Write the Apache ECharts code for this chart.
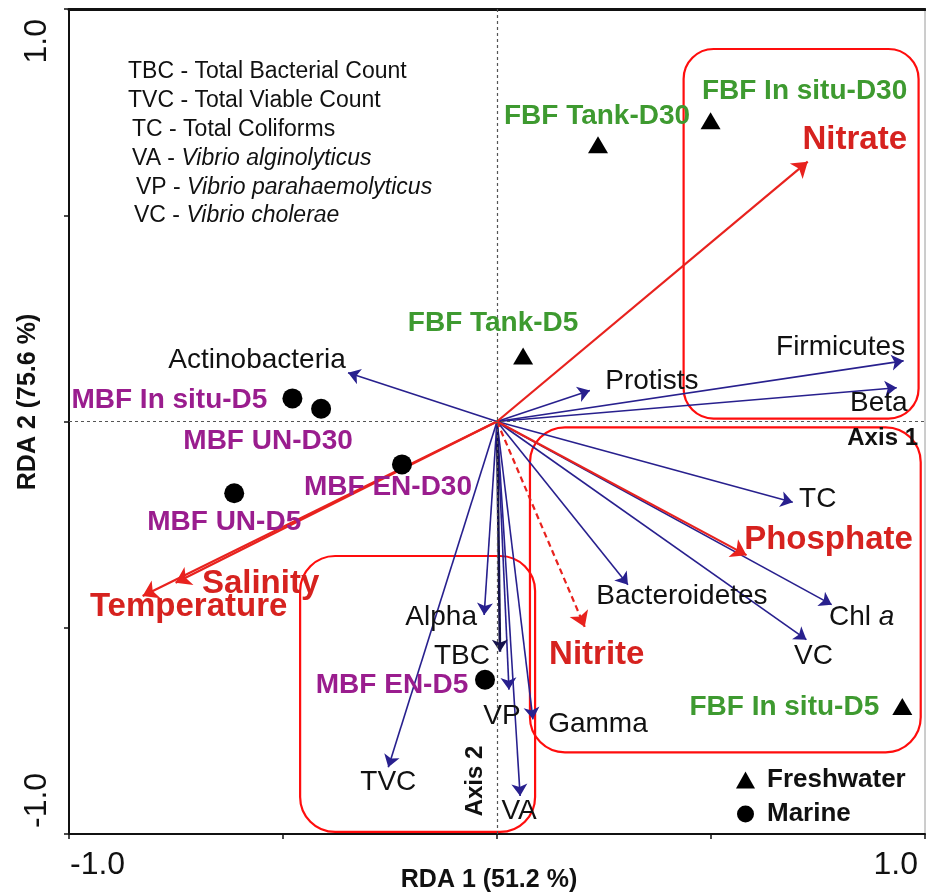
<!DOCTYPE html>
<html><head><meta charset="utf-8">
<script src="https://cdn.jsdelivr.net/npm/echarts@6/dist/echarts.min.js"></script>
<style>html,body{margin:0;padding:0;background:#fff}#c{width:926px;height:894px}</style>
</head><body><div id="c"></div>
<script>
// ---- data ----
const speciesNames = ['Actinobacteria','Protists','Firmicutes','Beta','TC','Bacteroidetes','Chl a','VC','Gamma','VA','VP','TBC','Alpha','TVC'];
const speciesX = [-0.348, 0.217, 0.950, 0.934, 0.691, 0.306, 0.782, 0.723, 0.084, 0.054, 0.028, 0.007, -0.030, -0.254];
const speciesY = [0.118, 0.075, 0.147, 0.082, -0.196, -0.396, -0.444, -0.529, -0.722, -0.908, -0.650, -0.558, -0.469, -0.838];
const envNames = ['Nitrate','Phosphate','Nitrite','Salinity','Temperature'];
const envX = [0.726, 0.583, 0.205, -0.751, -0.828];
const envY = [0.630, -0.324, -0.498, -0.391, -0.423];
const freshNames = ['FBF In situ-D30','FBF Tank-D30','FBF Tank-D5','FBF In situ-D5'];
const freshX = [0.499, 0.236, 0.061, 0.947];
const freshY = [0.729, 0.671, 0.159, -0.691];
const marineNames = ['MBF In situ-D5','MBF UN-D30','MBF EN-D30','MBF UN-D5','MBF EN-D5'];
const marineX = [-0.478, -0.411, -0.222, -0.614, -0.028];
const marineY = [0.056, 0.031, -0.104, -0.174, -0.626];
const tickValues = [-1, 1];
const tickLabels = ['-1.0', '1.0'];
const xTitle = 'RDA 1 (51.2 %)';
const yTitle = 'RDA 2 (75.6 %)';
const noteLines = [
  ['TBC - ', 'Total Bacterial Count', false],
  ['TVC - ', 'Total Viable Count', false],
  ['TC - ', 'Total Coliforms', false],
  ['VA - ', 'Vibrio alginolyticus', true],
  ['VP - ', 'Vibrio parahaemolyticus', true],
  ['VC - ', 'Vibrio cholerae', true]
];

// ---- layout / style (not data) ----
const labelOffset = {
  'Actinobacteria': [-91, -13], 'Protists': [62, -9], 'Firmicutes': [-63, -14], 'Beta': [-18, 16],
  'TC': [25, -3], 'Bacteroidetes': [54, 11], 'Chl a': [30, 13], 'VC': [7, 17], 'Gamma': [65, 5],
  'VA': [-1, 15], 'VP': [-7, 27], 'TBC': [-38, 5], 'Alpha': [-43, 2], 'TVC': [0, 15],
  'Nitrate': [47, -22], 'Phosphate': [82, -15], 'Nitrite': [12, 28], 'Salinity': [85, 1], 'Temperature': [46, 11],
  'FBF In situ-D30': [94, -30], 'FBF Tank-D30': [-1, -28], 'FBF Tank-D5': [-30, -33], 'FBF In situ-D5': [-118, 1],
  'MBF In situ-D5': [-123, 2], 'MBF UN-D30': [-53, 33], 'MBF EN-D30': [-14, 23], 'MBF UN-D5': [-10, 29], 'MBF EN-D5': [-93, 6]
};
const boxes = [
  {x0: 0.436, x1: 0.985, y0: 0.007, y1: 0.903, r: 30},
  {x0: 0.077, x1: 0.990, y0: -0.802, y1: -0.014, r: 35},
  {x0: -0.460, x1: 0.089, y0: -0.995, y1: -0.326, r: 35}
];
const BLUE = '#28208e', RED = '#e8221e', RED_TXT = '#d6221f', GREEN = '#3e9a30', PURPLE = '#9a1d8e';
const FONT = "'Liberation Sans', Arial, sans-serif";

function off(n) { return labelOffset[n] || [0, 0]; }

const speciesLines = speciesNames.map((n, i) => {
  const o = {name: n, coords: [[0, 0], [speciesX[i], speciesY[i]]]};
  if (n === 'TBC') o.lineStyle = {color: '#15124a', width: 2.6};
  return o;
});
const envLines = envNames.map((n, i) => {
  const o = {name: n, coords: [[0, 0], [envX[i], envY[i]]]};
  if (n === 'Nitrite') o.lineStyle = {type: [6, 4]};
  return o;
});

function labelData(names, xs, ys, baseLabel) {
  return names.map((n, i) => ({
    name: n, value: [xs[i], ys[i]],
    label: Object.assign({}, baseLabel, {offset: off(n)})
  }));
}

const speciesLabelBase = {show: true, position: 'inside', color: '#111', fontSize: 28, fontFamily: FONT, opacity: 1,
  textBorderWidth: 0, align: 'center', verticalAlign: 'middle',
  formatter: p => p.name === 'Chl a' ? 'Chl {i|a}' : p.name,
  rich: {i: {fontStyle: 'italic', fontSize: 28, fontFamily: FONT, color: '#111'}}};
const envLabelBase = {show: true, position: 'inside', color: RED_TXT, fontSize: 33, fontWeight: 'bold', fontFamily: FONT, opacity: 1,
  textBorderWidth: 0, align: 'center', verticalAlign: 'middle', formatter: p => p.name};
const freshLabelBase = {show: true, position: 'inside', color: GREEN, fontSize: 28, fontWeight: 'bold', fontFamily: FONT, opacity: 1,
  textBorderWidth: 0, align: 'center', verticalAlign: 'middle', formatter: p => p.name};
const marineLabelBase = Object.assign({}, freshLabelBase, {color: PURPLE});

const option = {
  animation: false,
  backgroundColor: '#fff',
  grid: {left: 69, right: 1, top: 9, bottom: 60, show: true, borderColor: '#9a9a9a', borderWidth: 1},
  xAxis: [
    {type: 'value', min: -1, max: 1, interval: 0.5, position: 'bottom',
     axisLine: {show: true, onZero: false, lineStyle: {color: '#111', width: 2}},
     axisTick: {show: true, length: 5, lineStyle: {color: '#111', width: 1.5}},
     axisLabel: {show: false}, splitLine: {show: false}},
    {type: 'value', min: -1, max: 1, interval: 0.5, position: 'top',
     axisLine: {show: true, onZero: false, lineStyle: {color: '#111', width: 3}},
     axisTick: {show: false}, axisLabel: {show: false}, splitLine: {show: false}}
  ],
  yAxis: [
    {type: 'value', min: -1, max: 1, interval: 0.5,
     axisLine: {show: true, onZero: false, lineStyle: {color: '#111', width: 2}},
     axisTick: {show: true, length: 5, lineStyle: {color: '#111', width: 1.5}},
     axisLabel: {show: false}, splitLine: {show: false}}
  ],
  legend: {
    data: ['Freshwater', 'Marine'], orient: 'vertical', left: 731, top: 762,
    itemWidth: 19, itemHeight: 17, itemGap: 8,
    textStyle: {fontSize: 26, fontWeight: 'bold', color: '#111', fontFamily: FONT, padding: [0, 0, 0, 7]}
  },
  series: [
    {type: 'lines', name: 'species', coordinateSystem: 'cartesian2d', xAxisIndex: 0, yAxisIndex: 0, z: 3,
     symbol: ['none', 'arrow'], symbolSize: 12,
     lineStyle: {color: BLUE, width: 1.6, opacity: 1, curveness: 0},
     data: speciesLines},
    {type: 'lines', name: 'env', coordinateSystem: 'cartesian2d', z: 4,
     symbol: ['none', 'arrow'], symbolSize: 15,
     lineStyle: {color: RED, width: 2.2, opacity: 1, curveness: 0},
     data: envLines},
    {type: 'scatter', name: 'speciesLabels', symbolSize: 0, z: 5, silent: true,
     itemStyle: {opacity: 1},
     data: labelData(speciesNames, speciesX, speciesY, speciesLabelBase),
     markLine: {silent: true, symbol: 'none', label: {show: false},
       lineStyle: {type: [3, 3], color: '#555', width: 1.2},
       data: [{xAxis: 0}, {yAxis: 0}]}},
    {type: 'scatter', name: 'envLabels', symbolSize: 0, z: 5, silent: true,
     itemStyle: {opacity: 1},
     data: labelData(envNames, envX, envY, envLabelBase)},
    {type: 'scatter', name: 'Freshwater', symbol: 'triangle', symbolSize: [20, 17], z: 6,
     itemStyle: {color: '#000', opacity: 1},
     data: labelData(freshNames, freshX, freshY, freshLabelBase)},
    {type: 'scatter', name: 'Marine', symbol: 'circle', symbolSize: 20, z: 6,
     itemStyle: {color: '#000', opacity: 1},
     data: labelData(marineNames, marineX, marineY, marineLabelBase)}
  ]
};

const chart = echarts.init(document.getElementById('c'));
chart.setOption(option);

const px = (x, y) => chart.convertToPixel({gridIndex: 0}, [x, y]);
const g = [];
boxes.forEach(b => {
  const a = px(b.x0, b.y1), c = px(b.x1, b.y0);
  g.push({type: 'rect', z: 1, silent: true,
    shape: {x: a[0], y: a[1], width: c[0] - a[0], height: c[1] - a[1], r: b.r},
    style: {fill: 'none', stroke: '#ff0d0d', lineWidth: 2.2}});
});
// tick labels
tickValues.forEach((v, i) => {
  const p = px(v, -1);
  g.push({type: 'text', z: 10, x: p[0] + (i === 0 ? 1 : -7), y: p[1] + 31,
    style: {text: tickLabels[i], fontSize: 32, fontFamily: FONT, fill: '#111',
      align: i === 0 ? 'left' : 'right', verticalAlign: 'middle'}});
  const q = px(-1, v);
  g.push({type: 'text', z: 10, x: 37, y: v > 0 ? q[1] + 10 : q[1] - 6, rotation: Math.PI / 2,
    style: {text: tickLabels[i], fontSize: 32, fontFamily: FONT, fill: '#111',
      align: v > 0 ? 'right' : 'left', verticalAlign: 'middle'}});
});
// axis titles
g.push({type: 'text', z: 10, x: 489, y: 880,
  style: {text: xTitle, fontSize: 25, fontWeight: 'bold', fontFamily: FONT, fill: '#111', align: 'center', verticalAlign: 'middle'}});
g.push({type: 'text', z: 10, x: 28, y: 402, rotation: Math.PI / 2,
  style: {text: yTitle, fontSize: 25, fontWeight: 'bold', fontFamily: FONT, fill: '#111', align: 'center', verticalAlign: 'middle'}});
// Axis 1 / Axis 2
g.push({type: 'text', z: 10, x: 918, y: 438,
  style: {text: 'Axis 1', fontSize: 24, fontWeight: 'bold', fontFamily: FONT, fill: '#111', align: 'right', verticalAlign: 'middle'}});
g.push({type: 'text', z: 10, x: 475, y: 781, rotation: Math.PI / 2,
  style: {text: 'Axis 2', fontSize: 24, fontWeight: 'bold', fontFamily: FONT, fill: '#111', align: 'center', verticalAlign: 'middle'}});
// note block
const noteX = [128, 128, 132, 132, 136, 134];
noteLines.forEach((ln, i) => {
  g.push({type: 'text', z: 10, x: noteX[i], y: 72 + i * 28.8,
    style: {text: '{n|' + ln[0] + '}{' + (ln[2] ? 'i' : 'n') + '|' + ln[1] + '}',
      verticalAlign: 'middle', align: 'left',
      rich: {n: {fontSize: 23, fontFamily: FONT, fill: '#111', color: '#111'},
             i: {fontSize: 23, fontFamily: FONT, fontStyle: 'italic', fill: '#111', color: '#111'}}}});
});
chart.setOption({graphic: {elements: g}});
</script>
</body></html>
